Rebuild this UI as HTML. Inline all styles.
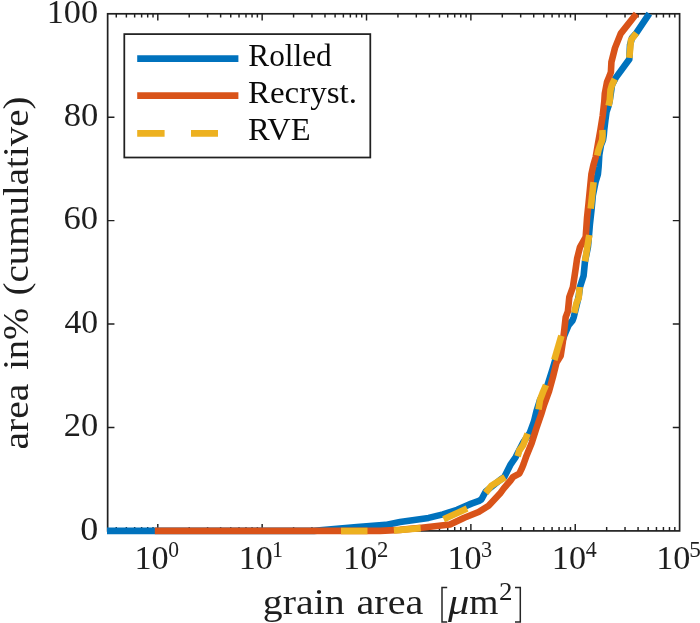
<!DOCTYPE html>
<html><head><meta charset="utf-8"><title>chart</title><style>html,body{margin:0;padding:0;background:#fff;overflow:hidden}svg{display:block;position:absolute;left:0;top:0;will-change:transform}text{font-family:"Liberation Serif",serif}</style></head><body>
<svg width="700" height="623" viewBox="0 0 700 623">
<rect x="0" y="0" width="700" height="623" fill="#fff"/>
<path d="M157.80 530.90V524.10M157.80 13.80V20.60M189.22 530.90V527.10M189.22 13.80V17.60M207.59 530.90V527.10M207.59 13.80V17.60M220.63 530.90V527.10M220.63 13.80V17.60M230.74 530.90V527.10M230.74 13.80V17.60M239.01 530.90V527.10M239.01 13.80V17.60M245.99 530.90V527.10M245.99 13.80V17.60M252.05 530.90V527.10M252.05 13.80V17.60M257.38 530.90V527.10M257.38 13.80V17.60M262.16 530.90V524.10M262.16 13.80V20.60M293.58 530.90V527.10M293.58 13.80V17.60M311.95 530.90V527.10M311.95 13.80V17.60M324.99 530.90V527.10M324.99 13.80V17.60M335.10 530.90V527.10M335.10 13.80V17.60M343.37 530.90V527.10M343.37 13.80V17.60M350.35 530.90V527.10M350.35 13.80V17.60M356.41 530.90V527.10M356.41 13.80V17.60M361.74 530.90V527.10M361.74 13.80V17.60M366.52 530.90V524.10M366.52 13.80V20.60M397.94 530.90V527.10M397.94 13.80V17.60M416.31 530.90V527.10M416.31 13.80V17.60M429.35 530.90V527.10M429.35 13.80V17.60M439.46 530.90V527.10M439.46 13.80V17.60M447.73 530.90V527.10M447.73 13.80V17.60M454.71 530.90V527.10M454.71 13.80V17.60M460.77 530.90V527.10M460.77 13.80V17.60M466.10 530.90V527.10M466.10 13.80V17.60M470.88 530.90V524.10M470.88 13.80V20.60M502.30 530.90V527.10M502.30 13.80V17.60M520.67 530.90V527.10M520.67 13.80V17.60M533.71 530.90V527.10M533.71 13.80V17.60M543.82 530.90V527.10M543.82 13.80V17.60M552.09 530.90V527.10M552.09 13.80V17.60M559.07 530.90V527.10M559.07 13.80V17.60M565.13 530.90V527.10M565.13 13.80V17.60M570.46 530.90V527.10M570.46 13.80V17.60M575.24 530.90V524.10M575.24 13.80V20.60M606.66 530.90V527.10M606.66 13.80V17.60M625.03 530.90V527.10M625.03 13.80V17.60M638.07 530.90V527.10M638.07 13.80V17.60M648.18 530.90V527.10M648.18 13.80V17.60M656.45 530.90V527.10M656.45 13.80V17.60M663.43 530.90V527.10M663.43 13.80V17.60M669.49 530.90V527.10M669.49 13.80V17.60M674.82 530.90V527.10M674.82 13.80V17.60M116.27 530.90V527.10M116.27 13.80V17.60M126.38 530.90V527.10M126.38 13.80V17.60M134.65 530.90V527.10M134.65 13.80V17.60M141.63 530.90V527.10M141.63 13.80V17.60M147.69 530.90V527.10M147.69 13.80V17.60M153.02 530.90V527.10M153.02 13.80V17.60M107.65 427.48H114.45M679.60 427.48H672.80M107.65 324.06H114.45M679.60 324.06H672.80M107.65 220.64H114.45M679.60 220.64H672.80M107.65 117.22H114.45M679.60 117.22H672.80" stroke="#202020" stroke-width="1.45" fill="none"/>
<rect x="107.65" y="13.80" width="571.95" height="517.10" fill="none" stroke="#202020" stroke-width="1.7"/>
<polyline points="107.0,530.9 314.0,530.9 357.0,527.1 385.7,524.9 400.0,522.1 428.6,517.9 442.9,514.4 457.1,509.8 471.4,503.6 479.0,500.8 481.5,499.3 485.7,491.5 492.9,485.7 500.0,480.0 504.3,477.1 510.7,464.3 515.7,457.1 522.9,442.9 529.8,432.9 534.0,421.4 536.4,411.4 540.0,400.0 547.3,385.7 552.3,370.0 555.3,360.0 558.5,350.0 562.5,341.0 564.5,335.0 568.7,325.0 572.5,320.5 573.8,317.1 578.6,297.1 580.0,287.1 583.6,275.7 585.0,261.4 587.9,247.1 588.6,240.0 589.9,224.3 591.5,210.0 592.8,195.7 595.7,181.4 597.9,174.3 598.6,167.0 599.3,155.0 601.0,145.0 603.0,140.0 603.8,135.0 604.2,130.0 605.4,120.0 606.5,112.0 608.6,105.7 609.8,100.0 610.7,94.3 612.0,85.0 615.7,77.9 629.3,59.3 630.0,45.0 632.0,38.0 636.4,32.9 649.3,13.7" fill="none" stroke="#0072BD" stroke-width="6.6" stroke-linejoin="round"/>
<polyline points="154.8,530.9 380.0,530.9 400.0,529.9 421.4,527.8 450.0,524.5 464.3,517.7 478.6,512.0 488.6,505.7 500.0,493.6 503.6,488.6 510.5,480.5 513.2,476.8 519.3,473.6 522.0,468.0 523.6,464.0 526.0,457.1 531.7,442.9 536.3,428.6 541.2,414.3 544.0,405.0 549.0,391.4 552.9,377.1 556.4,362.9 560.7,355.7 562.9,341.4 564.5,328.0 565.7,317.1 567.9,311.4 569.3,297.1 572.9,287.1 575.7,268.6 577.1,258.6 580.0,247.1 585.7,237.1 587.1,217.1 588.6,202.9 590.0,188.6 591.4,174.3 593.6,164.3 595.7,157.1 597.9,144.3 600.4,130.0 602.7,115.7 604.3,101.4 604.8,93.6 607.0,82.1 609.5,76.0 610.9,72.1 611.4,62.1 615.0,47.9 620.7,33.6 628.6,23.6 636.4,13.7" fill="none" stroke="#D95319" stroke-width="6.6" stroke-linejoin="round"/>
<polyline points="341.0,531.0 367.5,531.0" fill="none" stroke="#EDB120" stroke-width="6.6" stroke-linejoin="round"/>
<polyline points="393.9,530.5 420.7,528.1" fill="none" stroke="#EDB120" stroke-width="6.6" stroke-linejoin="round"/>
<polyline points="443.6,519.3 467.1,508.6" fill="none" stroke="#EDB120" stroke-width="6.6" stroke-linejoin="round"/>
<polyline points="485.7,492.9 491.4,485.7 505.0,477.1" fill="none" stroke="#EDB120" stroke-width="6.6" stroke-linejoin="round"/>
<polyline points="517.6,456.2 519.3,450.5 523.2,445.0 527.6,433.6" fill="none" stroke="#EDB120" stroke-width="6.6" stroke-linejoin="round"/>
<polyline points="538.5,409.5 540.0,400.0 543.0,392.0 546.0,385.0" fill="none" stroke="#EDB120" stroke-width="6.6" stroke-linejoin="round"/>
<polyline points="554.3,360.0 561.4,335.7" fill="none" stroke="#EDB120" stroke-width="6.6" stroke-linejoin="round"/>
<polyline points="574.2,313.0 576.5,303.0 578.7,298.0 579.7,287.0" fill="none" stroke="#EDB120" stroke-width="6.6" stroke-linejoin="round"/>
<polyline points="585.0,261.4 589.3,235.0" fill="none" stroke="#EDB120" stroke-width="6.6" stroke-linejoin="round"/>
<polyline points="590.7,208.6 593.6,182.1" fill="none" stroke="#EDB120" stroke-width="6.6" stroke-linejoin="round"/>
<polyline points="597.2,155.6 598.5,150.0 600.3,145.0 602.2,140.0 602.6,135.0 602.4,130.0" fill="none" stroke="#EDB120" stroke-width="6.6" stroke-linejoin="round"/>
<polyline points="608.6,105.7 609.8,100.0 610.5,90.0 612.0,85.0 614.8,79.0" fill="none" stroke="#EDB120" stroke-width="6.6" stroke-linejoin="round"/>
<polyline points="629.3,57.9 631.0,40.0 636.4,32.9" fill="none" stroke="#EDB120" stroke-width="6.6" stroke-linejoin="round"/>
<rect x="124.3" y="34.1" width="246.0" height="123.4" fill="#fff" stroke="#202020" stroke-width="1.75"/>
<path d="M137.2 58.6H238.4" stroke="#0072BD" stroke-width="6.7"/>
<path d="M137.2 95.7H238.4" stroke="#D95319" stroke-width="6.7"/>
<path d="M137.2 133.3H164.6M191 133.3H218" stroke="#EDB120" stroke-width="6.7"/>
<path d="M447.2 587.5H442V622H447.2M515 587.5H520.3V622H515" fill="none" stroke="#262626" stroke-width="1.5"/>
<g>
<text x="248.25" y="66.10" font-size="31.00" fill="#0a0a0a" textLength="83.48" lengthAdjust="spacingAndGlyphs">Rolled</text>
<text x="248.00" y="103.00" font-size="31.00" fill="#0a0a0a" textLength="108.93" lengthAdjust="spacingAndGlyphs">Recryst.</text>
<text x="248.10" y="140.30" font-size="31.00" fill="#0a0a0a" textLength="62.57" lengthAdjust="spacingAndGlyphs">RVE</text>
<text x="80.15" y="539.65" font-size="34.60" fill="#1e1e1e" textLength="18.06" lengthAdjust="spacingAndGlyphs">0</text>
<text x="63.70" y="436.23" font-size="34.60" fill="#1e1e1e" textLength="34.49" lengthAdjust="spacingAndGlyphs">20</text>
<text x="64.50" y="332.81" font-size="34.60" fill="#1e1e1e" textLength="33.68" lengthAdjust="spacingAndGlyphs">40</text>
<text x="63.50" y="229.39" font-size="34.60" fill="#1e1e1e" textLength="34.58" lengthAdjust="spacingAndGlyphs">60</text>
<text x="63.75" y="125.97" font-size="34.60" fill="#1e1e1e" textLength="34.58" lengthAdjust="spacingAndGlyphs">80</text>
<text x="46.70" y="22.55" font-size="34.60" fill="#1e1e1e" textLength="51.47" lengthAdjust="spacingAndGlyphs">100</text>
<text x="134.40" y="568.70" font-size="34.60" fill="#1e1e1e" textLength="34.22" lengthAdjust="spacingAndGlyphs">10</text>
<text x="168.35" y="556.80" font-size="22.60" fill="#1e1e1e" textLength="10.78" lengthAdjust="spacingAndGlyphs">0</text>
<text x="238.76" y="568.70" font-size="34.60" fill="#1e1e1e" textLength="34.22" lengthAdjust="spacingAndGlyphs">10</text>
<text x="272.06" y="556.80" font-size="22.60" fill="#1e1e1e" textLength="11.09" lengthAdjust="spacingAndGlyphs">1</text>
<text x="343.12" y="568.70" font-size="34.60" fill="#1e1e1e" textLength="34.22" lengthAdjust="spacingAndGlyphs">10</text>
<text x="376.92" y="556.80" font-size="22.60" fill="#1e1e1e" textLength="11.36" lengthAdjust="spacingAndGlyphs">2</text>
<text x="447.48" y="568.70" font-size="34.60" fill="#1e1e1e" textLength="34.22" lengthAdjust="spacingAndGlyphs">10</text>
<text x="481.08" y="556.80" font-size="22.60" fill="#1e1e1e" textLength="11.12" lengthAdjust="spacingAndGlyphs">3</text>
<text x="551.84" y="568.70" font-size="34.60" fill="#1e1e1e" textLength="34.22" lengthAdjust="spacingAndGlyphs">10</text>
<text x="585.64" y="556.80" font-size="22.60" fill="#1e1e1e" textLength="10.98" lengthAdjust="spacingAndGlyphs">4</text>
<text x="656.20" y="568.70" font-size="34.60" fill="#1e1e1e" textLength="34.22" lengthAdjust="spacingAndGlyphs">10</text>
<text x="689.15" y="556.80" font-size="22.60" fill="#1e1e1e" textLength="11.60" lengthAdjust="spacingAndGlyphs">5</text>
<text x="262.85" y="613.70" font-size="36.20" fill="#1e1e1e" textLength="81.78" lengthAdjust="spacingAndGlyphs">grain</text>
<text x="356.50" y="613.70" font-size="36.20" fill="#1e1e1e" textLength="66.85" lengthAdjust="spacingAndGlyphs">area</text>
<text x="448.00" y="613.70" font-size="36.20" fill="#1e1e1e" textLength="21.38" lengthAdjust="spacingAndGlyphs" font-style="italic">μ</text>
<text x="469.25" y="613.70" font-size="36.20" fill="#1e1e1e" textLength="29.20" lengthAdjust="spacingAndGlyphs">m</text>
<text x="499.05" y="600.20" font-size="25.00" fill="#1e1e1e" textLength="13.49" lengthAdjust="spacingAndGlyphs">2</text>
</g>
<g transform="translate(27.7,0) rotate(-90)">
<text x="-449.55" y="0" font-size="36.20" fill="#1e1e1e" textLength="66.01" lengthAdjust="spacingAndGlyphs">area</text>
<text x="-369.85" y="0" font-size="36.20" fill="#1e1e1e" textLength="62.01" lengthAdjust="spacingAndGlyphs">in%</text>
<text x="-295.45" y="0" font-size="36.20" fill="#1e1e1e" textLength="198.88" lengthAdjust="spacingAndGlyphs">(cumulative)</text>
</g>
</svg>
</body></html>
